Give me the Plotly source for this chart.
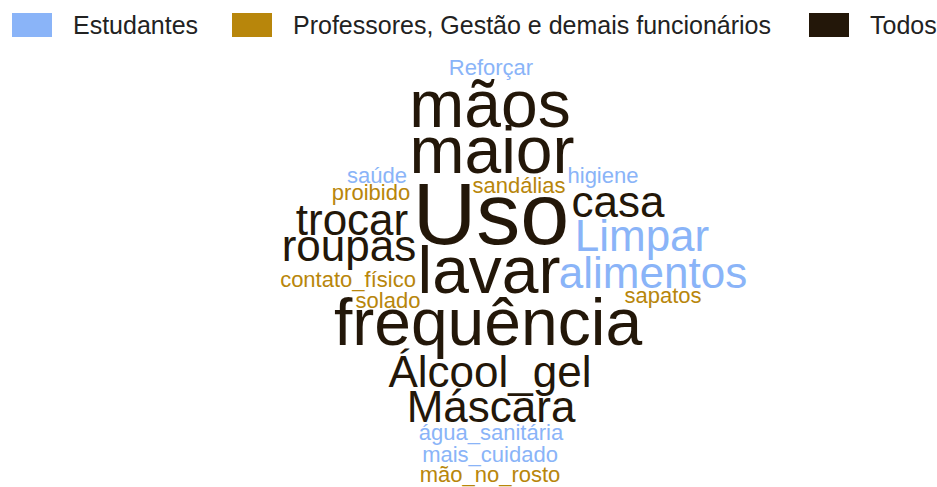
import plotly.graph_objects as go

# word cloud data: each word, its group and relative weight
words = ["Reforçar", "mãos", "maior", "saúde", "higiene", "proibido", "sandálias",
         "Uso", "casa", "trocar", "Limpar", "roupas", "lavar", "alimentos",
         "contato_físico", "solado", "sapatos", "frequência", "Álcool_gel",
         "Máscara", "água_sanitária", "mais_cuidado", "mão_no_rosto"]
groups = ["Estudantes", "Todos", "Todos", "Estudantes", "Estudantes", "Professores", "Professores",
          "Todos", "Todos", "Todos", "Estudantes", "Todos", "Todos", "Estudantes",
          "Professores", "Professores", "Professores", "Todos", "Todos",
          "Todos", "Estudantes", "Estudantes", "Professores"]
weights = [1, 3, 3, 1, 1, 1, 1,
           4, 2, 2, 2, 2, 3, 2,
           1, 1, 1, 3, 2,
           2, 1, 1, 1]

group_names = ["Estudantes", "Professores", "Todos"]
group_labels = ["Estudantes", "Professores, Gestão e demais funcionários", "Todos"]
group_colors = ["#8ab4f8", "#b8860b", "#231709"]

# cloud layout (pixel positions of each word's centre)
pos_x = [491, 490, 492, 377, 603, 371, 519,
         491, 618, 352, 642, 349, 489, 653,
         348, 388, 663, 488, 490,
         491, 491, 490, 490]
pos_y = [69.5, 110, 156, 177.5, 177.5, 194.5, 187.5,
         222, 205.5, 224, 239.5, 250, 276.5, 276.7,
         281.5, 302.5, 297.5, 328, 375.7,
         410.7, 434.5, 456.5, 476.5]

W, H = 937, 487
fig = go.Figure()

for g, col in zip(group_names, group_colors):
    idx = [i for i, gg in enumerate(groups) if gg == g]
    fig.add_trace(go.Scatter(
        x=[pos_x[i] for i in idx],
        y=[pos_y[i] for i in idx],
        text=[words[i] for i in idx],
        mode="text",
        textposition="middle center",
        textfont=dict(family="Arial, Liberation Sans, sans-serif", color=col,
                      size=[22 * weights[i] for i in idx]),
        hoverinfo="text",
        showlegend=False,
    ))

# legend drawn by hand (wide swatches like the original)
sw_x = [12, 232, 809]
for x0, lab, col in zip(sw_x, group_labels, group_colors):
    fig.add_shape(type="rect", x0=x0, x1=x0 + 40, y0=13, y1=37,
                  fillcolor=col, line=dict(width=0))
    fig.add_annotation(x=x0 + 59, y=25, text=lab, showarrow=False,
                       xanchor="left", yanchor="middle",
                       font=dict(family="Arial, Liberation Sans, sans-serif",
                                 size=25, color="#222222"))

fig.update_layout(
    width=W, height=H,
    margin=dict(l=0, r=0, t=0, b=0),
    plot_bgcolor="white", paper_bgcolor="white",
    xaxis=dict(range=[0, W], visible=False, fixedrange=True),
    yaxis=dict(range=[H, 0], visible=False, fixedrange=True),
)

fig.write_html("out.html", config={"displayModeBar": False},
               post_script="document.body.style.margin='0';")
